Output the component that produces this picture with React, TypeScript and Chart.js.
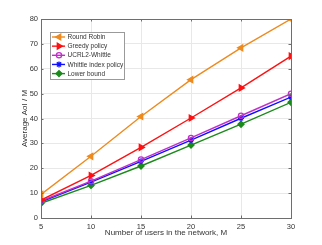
import React, { useEffect, useRef } from "react";
import { Chart, registerables } from "chart.js";
import { drawPoint } from "chart.js/helpers";

Chart.register(...registerables);

const users = [5, 10, 15, 20, 25, 30];
const roundRobin = [9.5, 24.8, 40.8, 55.6, 68.4, 80];
const greedy = [7.2, 17.1, 28.4, 40.2, 52.3, 65.1];
const ucrl2Whittle = [6.8, 14.8, 23.5, 32.2, 41.1, 50.0];
const whittleIndex = [6.5, 14.4, 22.8, 31.3, 40.1, 48.6];
const lowerBound = [5.9, 13.1, 20.9, 29.3, 37.7, 46.5];

const seriesNames = ["Round Robin", "Greedy policy", "UCRL2-Whittle", "Whittle index policy", "Lower bound"];
const xTitle = "Number of users in the network, M";
const yTitle = "Average AoI / M";

const FONT = "'Liberation Sans', Arial, Helvetica, sans-serif";
const TEXT = "#333333";

function drawPointLocal(ctx: any, style: string, radius: number, x: number, y: number, rotation: number, fill: string, stroke: string, bw: number) {
  ctx.save();
  ctx.fillStyle = fill;
  ctx.strokeStyle = stroke;
  ctx.lineWidth = bw;
  drawPoint(ctx, { pointStyle: style, radius, rotation, borderWidth: bw } as any, x, y);
  ctx.restore();
}

const boxPlugin = {
  id: "boxPlugin",
  afterDatasetsDraw(chart: any) {
    const { ctx, chartArea } = chart;
    const { left, right, top, bottom } = chartArea;
    ctx.save();
    ctx.strokeStyle = "#6e6e6e";
    ctx.lineWidth = 1;
    ctx.strokeRect(Math.round(left) + 0.5, Math.round(top) + 0.5, Math.round(right - left), Math.round(bottom - top));
    const tl = 2.5;
    const xs = chart.scales.x;
    const ys = chart.scales.y;
    ctx.beginPath();
    xs.ticks.forEach((t: any) => {
      const px = Math.round(xs.getPixelForValue(t.value)) + 0.5;
      ctx.moveTo(px, bottom);
      ctx.lineTo(px, bottom - tl);
      ctx.moveTo(px, top);
      ctx.lineTo(px, top + tl);
    });
    ys.ticks.forEach((t: any) => {
      const py = Math.round(ys.getPixelForValue(t.value)) + 0.5;
      ctx.moveTo(left, py);
      ctx.lineTo(left + tl, py);
      ctx.moveTo(right, py);
      ctx.lineTo(right - tl, py);
    });
    ctx.stroke();

    // legend
    const bx = Math.round(left + 8.5) + 0.5;
    const by = Math.round(top + 12.7) + 0.5;
    const bw = 74;
    const bh = 47;
    ctx.fillStyle = "#ffffff";
    ctx.fillRect(bx, by, bw, bh);
    ctx.strokeStyle = "#9a9a9a";
    ctx.lineWidth = 1;
    ctx.strokeRect(bx, by, bw, bh);
    ctx.font = `6.5px ${FONT}`;
    ctx.textBaseline = "middle";
    ctx.textAlign = "left";
    chart.data.datasets.forEach((ds: any, i: number) => {
      const y = by + 4.5 + i * 9.15;
      ctx.strokeStyle = ds.borderColor;
      ctx.lineWidth = ds.borderWidth;
      ctx.beginPath();
      ctx.moveTo(bx + 1.5, y);
      ctx.lineTo(bx + 14.5, y);
      ctx.stroke();
      drawPointLocal(ctx, ds.pointStyle, ds.pointRadius, bx + 8.5, y, ds.pointRotation || 0, ds.pointBackgroundColor, ds.borderColor, ds.pointBorderWidth);
      ctx.fillStyle = TEXT;
      ctx.fillText(ds.label, bx + 17, y + 0.3);
    });
    ctx.restore();
  },
};

export default function App() {
  const ref = useRef<HTMLCanvasElement | null>(null);
  useEffect(() => {
    document.body.style.margin = "0";
    if (!ref.current) return;
    const mk = (label: string, data: number[], color: string, style: string, radius: number, rot: number, fill: string) => ({
      label,
      data: users.map((u, i) => ({ x: u, y: data[i] })),
      borderColor: color,
      backgroundColor: color,
      borderWidth: 1.4,
      pointStyle: style,
      pointRadius: radius,
      pointRotation: rot,
      pointBackgroundColor: fill,
      pointBorderColor: color,
      pointBorderWidth: 1.3,
      tension: 0,
    });
    const chart = new Chart(ref.current, {
      type: "line",
      data: {
        datasets: [
          mk(seriesNames[0], roundRobin, "#EE8A1E", "triangle", 3.4, -90, "#EE8A1E"),
          mk(seriesNames[1], greedy, "#FF1010", "triangle", 3.4, 90, "#FF1010"),
          mk(seriesNames[2], ucrl2Whittle, "#C030C8", "circle", 2.6, 0, "rgba(255,255,255,0)"),
          mk(seriesNames[3], whittleIndex, "#1010FF", "star", 3, 0, "#1010FF"),
          mk(seriesNames[4], lowerBound, "#1A8A1A", "rectRot", 3, 0, "#1A8A1A"),
        ] as any,
      },
      options: {
        animation: false,
        responsive: false,
        devicePixelRatio: 1,
        layout: { padding: { top: 19, right: 31, left: 0, bottom: 0 } },
        plugins: { legend: { display: false }, tooltip: { enabled: false } },
        scales: {
          x: {
            type: "linear",
            min: 5,
            max: 30,
            afterFit: (s: any) => { s.height = 27; },
            ticks: { stepSize: 5, color: TEXT, font: { size: 7.5, family: FONT }, padding: 4, maxRotation: 0 },
            grid: { color: "#e8e8e8", drawTicks: false, lineWidth: 1 },
            border: { display: false },
            title: { display: true, text: xTitle, color: TEXT, font: { size: 8, family: FONT }, padding: { top: 0, bottom: 7 } },
          },
          y: {
            min: 0,
            max: 80,
            afterFit: (s: any) => { s.width = 41; },
            ticks: { stepSize: 10, color: TEXT, font: { size: 7.5, family: FONT }, padding: 3 },
            grid: { color: "#e8e8e8", drawTicks: false, lineWidth: 1 },
            border: { display: false },
            title: { display: true, text: yTitle, color: TEXT, font: { size: 8, family: FONT }, padding: { top: 20, bottom: 0 } },
          },
        },
      },
      plugins: [boxPlugin],
    } as any);
    return () => chart.destroy();
  }, []);
  return (
    <div style={{ position: "fixed", left: 0, top: 0, width: 322, height: 245, background: "#fff" }}>
      <canvas ref={ref} width={322} height={245} style={{ width: 322, height: 245 }} />
    </div>
  );
}
